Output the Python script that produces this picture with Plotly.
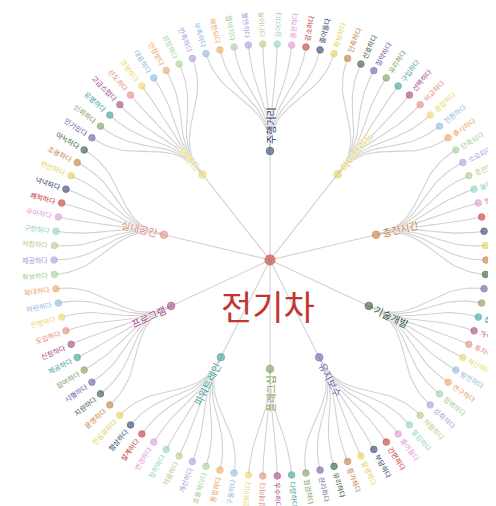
import math
import plotly.graph_objects as go

# ---------------- data ----------------
root_name = "전기차"
categories = ["주행거리", "하이브리드", "충전시간", "기술개발", "유지보수",
              "플래그십", "파워트레인", "프로그램", "실내공간", "브랜드"]
leaf_주행거리 = ["부족하다", "제한되다", "짧아지다", "불안하다", "늘어나다",
              "길어지다", "충분하다", "감소하다", "줄어들다", "확보하다"]
leaf_하이브리드 = ["단축하다", "선호하다", "절약하다", "유리하다", "구입하다",
               "선택하다", "비교하다", "결합하다", "전환하다", "출시하다"]
leaf_충전시간 = ["단축되다", "소요되다", "충전하다", "불편하다", "빨라지다",
              "걸리다", "기다리다", "개선되다", "줄이다", "급속하다"]
leaf_기술개발 = ["추진하다", "지원하다", "집중하다", "가속하다", "투자하다",
              "혁신하다", "발전하다", "연구하다", "협력하다", "강화하다"]
leaf_유지보수 = ["저렴하다", "절감하다", "줄어들다", "간편하다", "부담하다",
              "발생하다", "증가하다", "유리하다", "관리하다", "점검하다"]
leaf_플래그십 = ["다양하다", "우수하다", "탑재하다", "선보이다"]
leaf_파워트레인 = ["구동하다", "통합하다", "효율적이다", "개선하다", "적용하다",
               "장착하다", "변경하다", "설계하다", "향상하다", "전동화하다"]
leaf_프로그램 = ["운영하다", "지원하다", "시행하다", "참여하다", "제공하다",
              "신청하다", "도입하다", "진행하다", "마련하다", "확대하다"]
leaf_실내공간 = ["확보하다", "제공하다", "저렴하다", "구현하다", "우아하다",
              "쾌적하다", "넉넉하다", "편안하다", "조용하다", "아늑하다"]
leaf_브랜드 = ["인기있다", "신뢰하다", "유명하다", "고급스럽다", "선도하다",
             "경쟁하다", "대표하다", "인정받다", "성장하다", "만족하다"]
children = [leaf_주행거리, leaf_하이브리드, leaf_충전시간, leaf_기술개발, leaf_유지보수,
            leaf_플래그십, leaf_파워트레인, leaf_프로그램, leaf_실내공간, leaf_브랜드]

palette = ["#c23531", "#2c3a6c", "#e3cf55", "#c27a3a", "#2f5436", "#675ca6",
           "#7a9a58", "#3c9c95", "#a1407f", "#de8a7c", "#e9d865", "#8db7e0",
           "#eba35d", "#a0cf94", "#a99ade", "#b5c98a", "#8dd5bb", "#df98d5"]

# ---------------- layout parameters ----------------
W, H = 496, 506
cx, cy = 262, 252
r1, r2 = 109, 216
font = "Noto Sans CJK KR, Noto Sans, sans-serif"


def polar(theta, r):
    t = math.radians(theta)
    return cx + r * math.cos(t), cy - r * math.sin(t)


def lighten(hexc, f):
    h = hexc.lstrip("#")
    rgb = [int(h[i:i + 2], 16) for i in (0, 2, 4)]
    rgb = [round(c + (255 - c) * f) for c in rgb]
    return "rgb(%d,%d,%d)" % tuple(rgb)


def text_angle(theta):
    t = (theta + 180) % 360 - 180
    if -90 <= t <= 90:
        a = -t
    else:
        a = 180 - t
    a = (a + 180) % 360 - 180
    return a


total = sum(len(c) for c in children)
step = 360.0 / total
theta0 = 90 + step * (len(children[0]) - 1) / 2

color_idx = 0
node_x, node_y, node_c, node_s = [], [], [], []
ex, ey = [], []
annotations = []

root_color = palette[color_idx % len(palette)]
color_idx += 1

cat_thetas = []
leaf_thetas = []
j = 0
for grp in children:
    th = [theta0 - (j + k) * step for k in range(len(grp))]
    j += len(grp)
    leaf_thetas.append(th)
    cat_thetas.append((th[0] + th[-1]) / 2)

cat_colors = []
for _ in categories:
    cat_colors.append(palette[color_idx % len(palette)])
    color_idx += 1
leaf_colors = []
for grp in children:
    cols = []
    for _ in grp:
        cols.append(palette[color_idx % len(palette)])
        color_idx += 1
    leaf_colors.append(cols)

for tc in cat_thetas:
    x1, y1 = polar(tc, r1)
    ex += [cx, x1, None]
    ey += [cy, y1, None]

rm = (r1 + r2) / 2
for tc, ths in zip(cat_thetas, leaf_thetas):
    for tl in ths:
        P = [polar(tc, r1), polar(tc, rm), polar(tl, rm), polar(tl, r2)]
        for i in range(31):
            t = i / 30
            a, b, c, d = (1 - t) ** 3, 3 * t * (1 - t) ** 2, 3 * t * t * (1 - t), t ** 3
            ex.append(a * P[0][0] + b * P[1][0] + c * P[2][0] + d * P[3][0])
            ey.append(a * P[0][1] + b * P[1][1] + c * P[2][1] + d * P[3][1])
        ex.append(None)
        ey.append(None)

node_x.append(cx); node_y.append(cy); node_c.append(root_color); node_s.append(10)
for tc, col in zip(cat_thetas, cat_colors):
    x, y = polar(tc, r1)
    node_x.append(x); node_y.append(y); node_c.append(col); node_s.append(7.5)
for ths, cols in zip(leaf_thetas, leaf_colors):
    for tl, col in zip(ths, cols):
        x, y = polar(tl, r2)
        node_x.append(x); node_y.append(y); node_c.append(col); node_s.append(6.5)

cat_fs = 10
for name, tc, col in zip(categories, cat_thetas, cat_colors):
    w = len(name) * cat_fs * 0.95
    x, y = polar(tc, r1 + 6 + w / 2)
    annotations.append(dict(x=x, y=y, text=name, showarrow=False,
                            textangle=text_angle(tc), xanchor="center", yanchor="middle",
                            font=dict(family=font, size=cat_fs, color=col,
                                      shadow="0px 0px 2px #fff, 0px 0px 2px #fff, 0px 0px 3px #fff"),
                            borderpad=0))
leaf_fs = 7
for grp, ths, cols in zip(children, leaf_thetas, leaf_colors):
    for name, tl, col in zip(grp, ths, cols):
        w = len(name) * leaf_fs * 0.95
        x, y = polar(tl, r2 + 6 + w / 2)
        annotations.append(dict(x=x, y=y, text=name, showarrow=False,
                                textangle=text_angle(tl), xanchor="center", yanchor="middle",
                                font=dict(family=font, size=leaf_fs, color=col),
                                borderpad=0))
annotations.append(dict(x=cx - 2, y=cy + 45, text=root_name, showarrow=False,
                        xanchor="center", yanchor="middle",
                        font=dict(family=font, size=34, color=root_color)))

fig = go.Figure()
fig.add_trace(go.Scatter(x=ex, y=ey, mode="lines",
                         line=dict(color="#d2d2d2", width=1.1),
                         hoverinfo="skip", showlegend=False))
fig.add_trace(go.Scatter(x=node_x, y=node_y, mode="markers",
                         marker=dict(size=node_s, color=[lighten(c, 0.15) for c in node_c],
                                     line=dict(color=node_c, width=1)),
                         hoverinfo="skip", showlegend=False))
fig.update_layout(width=W, height=H, margin=dict(l=0, r=0, t=0, b=0),
                  paper_bgcolor="white", plot_bgcolor="white",
                  xaxis=dict(range=[0, W], visible=False, fixedrange=True),
                  yaxis=dict(range=[H, 0], visible=False, fixedrange=True),
                  annotations=annotations)
fig.write_html("out.html")
